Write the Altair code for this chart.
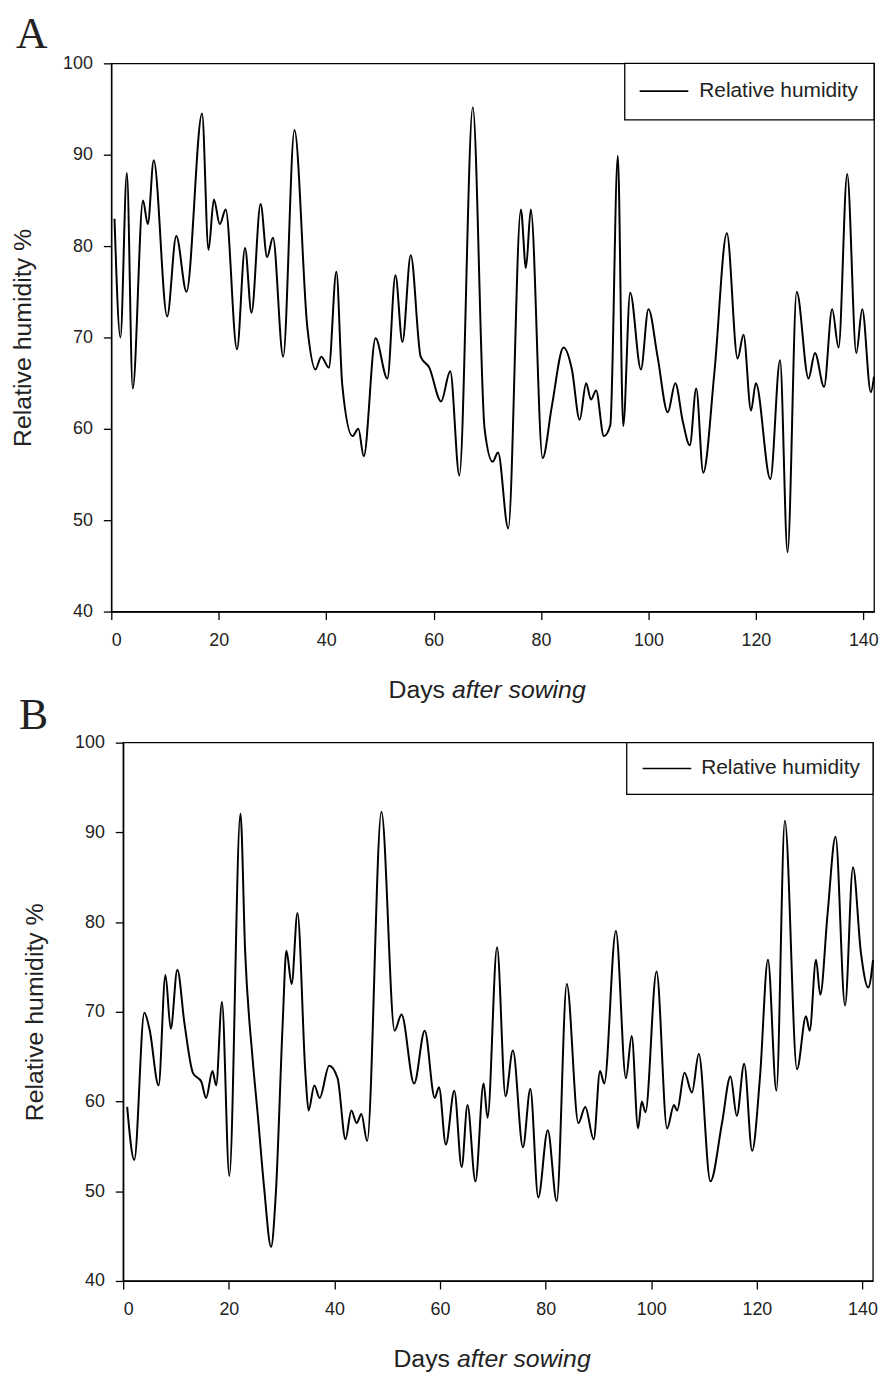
import altair as alt
import pandas as pd

# ---------------- data ----------------
a_day = [0.6, 1.7, 2.9, 4.0, 5.9, 6.8, 7.9, 10.4, 12.1, 14.0, 16.9, 18.1, 19.1, 20.2, 21.3,
         23.4, 24.9, 26.1, 27.8, 29.0, 30.1, 32.0, 34.1, 36.5, 38.0, 39.1, 40.5, 41.9, 43.0,
         44.9, 46.0, 47.0, 49.2, 51.4, 52.9, 54.2, 55.75, 57.6, 59.2, 61.4, 63.1, 64.8, 67.3,
         69.5, 71.0, 72.0, 73.9, 76.25, 77.2, 78.1, 80.3, 82.0, 84.2, 85.75, 87.2, 88.4, 89.3,
         90.25, 91.7, 92.9, 94.3, 95.3, 96.6, 98.6, 100.0, 101.7, 103.6, 105.0, 106.4, 107.7,
         108.9, 110.2, 112.3, 114.6, 116.6, 117.7, 119.1, 120.0, 122.7, 124.5, 125.9, 127.6,
         129.8, 131.0, 132.7, 134.2, 135.4, 137.0, 138.7, 139.8, 141.4, 142.0]
a_rh = [83.0, 70.0, 88.0, 64.4, 85.0, 82.4, 89.4, 72.3, 81.1, 75.0, 94.5, 79.6, 85.1, 82.4, 84.0,
        68.7, 79.8, 72.7, 84.6, 78.8, 80.9, 67.9, 92.7, 71.1, 66.5, 67.9, 66.7, 77.2, 64.8,
        59.2, 60.0, 57.0, 69.9, 65.5, 76.8, 69.5, 79.0, 67.9, 66.7, 63.0, 66.3, 54.9, 95.2,
        60.0, 56.4, 57.4, 49.1, 84.0, 77.6, 84.0, 56.8, 62.4, 68.9, 66.5, 61.0, 65.0, 63.2,
        64.2, 59.2, 60.4, 89.9, 60.3, 74.9, 66.5, 73.1, 67.9, 61.8, 65.0, 60.8, 58.2,
        64.4, 55.2, 66.3, 81.4, 67.7, 70.3, 62.0, 65.0, 54.5, 67.5, 46.5, 75.0,
        65.5, 68.3, 64.6, 73.1, 68.9, 87.9, 68.3, 73.1, 64.0, 65.7]

b_day = [0.75, 2.1, 4.0, 5.0, 6.7, 8.0, 9.0, 10.25, 11.6, 13.2,
         14.8, 15.7, 16.9, 17.6, 18.7, 20.1, 22.2, 23.1, 24.5, 25.5,
         26.7, 28.0, 28.9, 30.2, 30.9, 31.9, 33.0, 34.5, 35.1, 36.2,
         37.2, 39.0, 40.6, 42.1, 43.2, 44.2, 45.1, 46.2, 48.9, 51.4,
         52.7, 55.1, 57.1, 59.0, 59.8, 61.1, 62.7, 64.1, 65.2, 66.7,
         68.25, 69.0, 70.8, 72.4, 73.8, 75.7, 77.1, 78.6, 80.4, 82.1,
         84.0, 86.2, 87.5, 89.1, 90.3, 91.1, 93.3, 95.2, 96.3, 97.5,
         98.2, 98.9, 101.0, 103.0, 104.3, 104.9, 106.3, 107.7, 109.0, 111.2,
         113.4, 115.0, 116.2, 117.6, 119.1, 120.6, 122.1, 123.7, 125.3, 127.6,
         129.3, 130.0, 131.2, 132.0, 133.4, 134.9, 136.7, 138.2, 139.7, 141.1,
         142.0]
b_rh = [59.4, 53.5, 69.9, 68.0, 61.8, 74.1, 68.1, 74.7, 68.7, 63.2,
        62.2, 60.4, 63.4, 61.8, 71.1, 51.7, 92.1, 76.6, 64.8, 58.4,
        50.3, 43.8, 49.7, 68.7, 76.8, 73.1, 81.0, 63.2, 59.0, 61.8,
        60.4, 64.0, 62.6, 55.8, 59.0, 57.6, 58.6, 55.6, 92.3, 67.9,
        69.7, 62.0, 67.9, 60.4, 61.6, 55.2, 61.2, 52.7, 59.6, 51.1,
        62.0, 58.2, 77.2, 60.6, 65.7, 54.9, 61.4, 49.3, 56.8, 48.9,
        73.1, 57.6, 59.4, 55.8, 63.4, 62.0, 79.0, 62.6, 67.3, 57.0,
        60.0, 58.8, 74.5, 57.0, 59.6, 59.0, 63.2, 61.0, 65.3, 51.1,
        57.6, 62.8, 58.4, 64.2, 54.5, 62.8, 75.8, 61.2, 91.3, 63.6,
        69.5, 67.9, 75.8, 71.9, 81.0, 89.5, 70.7, 86.1, 76.6, 72.7,
        75.8]

x_ticks = [0, 20, 40, 60, 80, 100, 120, 140]
y_ticks = [40, 50, 60, 70, 80, 90, 100]
x_domain = [0, 142]
y_domain = [40, 100]
panel_labels = ["A", "B"]
x_title_words = ["Days", "after sowing"]
y_title = "Relative humidity %"
legend_labels = ["Relative humidity"]

FONT = "Liberation Sans"
SERIF = "Liberation Serif"
INK = "#222222"

W = 768
H_A = 552
H_B = 542


def one(value):
    return pd.DataFrame({"t": [value]})


def text(value, x, y, size, align="left", baseline="alphabetic", font=FONT, style="normal"):
    return alt.Chart(one(value)).mark_text(
        font=font, fontSize=size, align=align, baseline=baseline,
        fontStyle=style, color=INK
    ).encode(text="t:N", x=alt.value(x), y=alt.value(y))


def panel(days, rh, height, x_range, y_offset, legend_box, legend_line, legend_text_x,
          legend_y, title_x, title_y, label, label_x, label_y):
    df = pd.DataFrame({"day": days, "rh": rh})
    xscale = alt.Scale(domain=x_domain, nice=False, zero=False)
    if x_range is not None:
        xscale = alt.Scale(domain=x_domain, nice=False, zero=False, range=x_range)
    line = alt.Chart(df).mark_line(
        color="black", strokeWidth=2.0, interpolate="monotone"
    ).encode(
        x=alt.X("day:Q", scale=xscale,
                axis=alt.Axis(values=x_ticks, title=None, labelPadding=12)),
        y=alt.Y("rh:Q", scale=alt.Scale(domain=y_domain, nice=False, zero=False),
                axis=alt.Axis(values=y_ticks, title=y_title, labelPadding=11,
                              titlePadding=27, offset=y_offset)),
    )
    leg = alt.Chart(one(legend_labels[0]))
    box = leg.mark_rect(fill="white", stroke="black", strokeWidth=1.3).encode(
        x=alt.value(legend_box[0]), x2=alt.value(legend_box[1]),
        y=alt.value(0), y2=alt.value(legend_box[2]))
    sample = leg.mark_rule(color="black", strokeWidth=1.6).encode(
        x=alt.value(legend_line[0]), x2=alt.value(legend_line[1]), y=alt.value(legend_y))
    ltext = leg.mark_text(font=FONT, fontSize=21, align="left", baseline="middle",
                          color=INK).encode(text="t:N", x=alt.value(legend_text_x),
                                            y=alt.value(legend_y))
    t1 = text(x_title_words[0], title_x, title_y, 25, align="right")
    t2 = text(x_title_words[1], title_x + 7, title_y, 25, align="left", style="italic")
    lab = text(label, label_x, label_y, 44, font=SERIF)
    return [line, box, sample, ltext, t1, t2, lab]


layers_a = panel(a_day, a_rh, H_A, None, 0, (517, 768, 57), (532, 581), 592, 28,
                 336, 639, panel_labels[0], -96, -15)
chart_a = alt.layer(*layers_a).properties(width=W, height=H_A)

layers_b = panel(b_day, b_rh, H_B, [12, 767], -12, (519, 767, 52), (535, 584), 594, 26,
                 341, 629, panel_labels[1], -93, -14)
frame_b = alt.Chart(one("frame")).mark_rect(
    fill="transparent", stroke="black", strokeWidth=1.3
).encode(x=alt.value(12), x2=alt.value(767), y=alt.value(0), y2=alt.value(H_B))
chart_b = alt.layer(layers_b[0], frame_b, *layers_b[1:]).properties(
    width=W, height=H_B, view=alt.ViewBackground(stroke="transparent"))

chart = alt.vconcat(chart_a, chart_b, spacing=-11).properties(
    padding={"left": 2, "top": 0, "right": 0, "bottom": 0},
    background="white",
).configure_view(
    stroke="black", strokeWidth=1.3
).configure_axis(
    grid=False,
    domainColor="black", domainWidth=1.3,
    tickColor="black", tickWidth=1.3, tickSize=8,
    labelFont=FONT, labelFontSize=18, labelColor=INK,
    titleFont=FONT, titleFontSize=25, titleFontWeight="normal", titleColor=INK,
)

chart.save("out.html", embed_options={"renderer": "svg", "actions": False})
